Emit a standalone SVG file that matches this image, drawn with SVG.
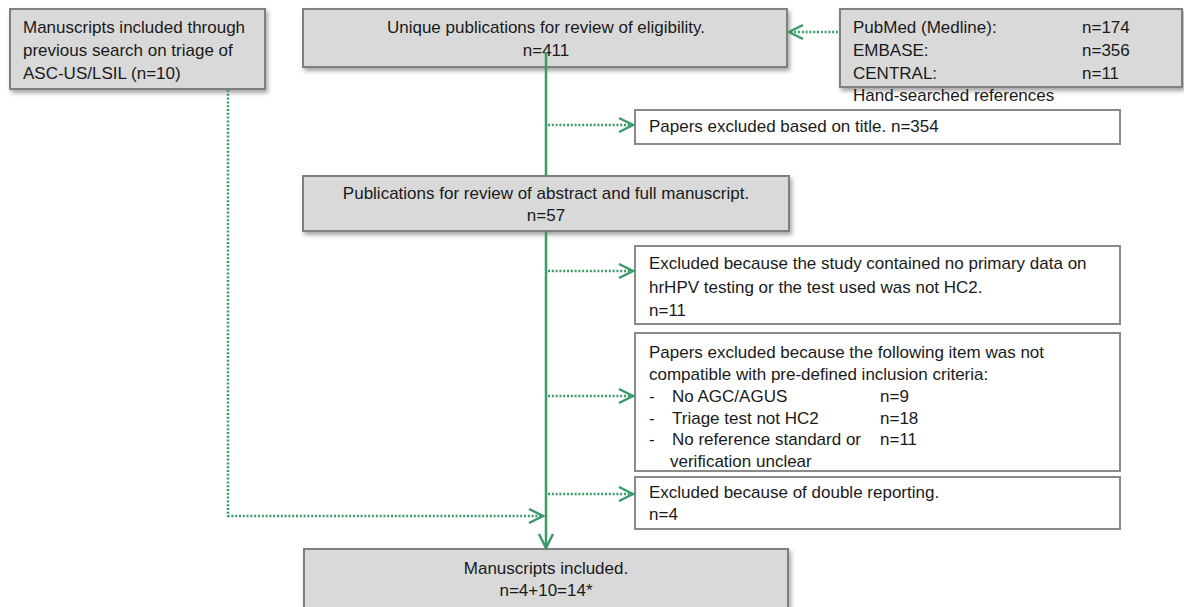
<svg xmlns="http://www.w3.org/2000/svg" width="1184" height="607" viewBox="0 0 1184 607">
  <style>
    .gbox { fill: #d9d9d9; stroke: #7f7f7f; stroke-width: 2; filter: url(#shadow); }
    .wbox { fill: #ffffff; stroke: #8a8a8a; stroke-width: 2; }
    text { font-family: "Liberation Sans", Arial, sans-serif; font-size: 17px; fill: #1a1a1a; }
    .mid { text-anchor: middle; }
    .solid { fill: none; stroke: #3a9a68; stroke-width: 2.5; }
    .dot { fill: none; stroke: #3a9a68; stroke-width: 2.5; stroke-dasharray: 2 1.8; }
  </style>
  <defs>
    <filter id="shadow" x="-5%" y="-10%" width="115%" height="140%">
      <feDropShadow dx="2" dy="3" stdDeviation="2" flood-color="#000" flood-opacity="0.35"/>
    </filter>
    <marker id="arr" markerUnits="userSpaceOnUse" markerWidth="20" markerHeight="20" viewBox="0 0 20 20" refX="17" refY="10" orient="auto">
      <path d="M3,3 L17,10 L3,17" fill="none" stroke="#3a9a68" stroke-width="2.5" stroke-dasharray="none"/>
    </marker>
  </defs>

  <g id="n-previous">
    <rect class="gbox" x="10" y="9" width="255" height="80"/>
    <text x="23" y="33">Manuscripts included through</text>
    <text x="23" y="56">previous search on triage of</text>
    <text x="23" y="79">ASC-US/LSIL (n=10)</text>
  </g>

  <g id="n-unique">
    <rect class="gbox" x="303" y="9" width="484" height="58"/>
    <text class="mid" x="546" y="33">Unique publications for review of eligibility.</text>
    <text class="mid" x="546" y="56">n=411</text>
  </g>

  <g id="n-sources">
    <rect class="gbox" x="840" y="9" width="342" height="78"/>
    <text x="853" y="33">PubMed (Medline):</text>
    <text x="1082" y="33">n=174</text>
    <text x="853" y="56">EMBASE:</text>
    <text x="1082" y="56">n=356</text>
    <text x="853" y="79">CENTRAL:</text>
    <text x="1082" y="79">n=11</text>
    <text x="853" y="101">Hand-searched references</text>
  </g>

  <g id="n-title">
    <rect class="wbox" x="635" y="110" width="485" height="34"/>
    <text x="649" y="132">Papers excluded based on title. n=354</text>
  </g>

  <g id="n-abstract">
    <rect class="gbox" x="303" y="176" width="486" height="55"/>
    <text class="mid" x="546" y="199">Publications for review of abstract and full manuscript.</text>
    <text class="mid" x="546" y="221">n=57</text>
  </g>

  <g id="n-noprimary">
    <rect class="wbox" x="635" y="246" width="485" height="78"/>
    <text x="649" y="269">Excluded because the study contained no primary data on</text>
    <text x="649" y="293">hrHPV testing or the test used was not HC2.</text>
    <text x="649" y="316">n=11</text>
  </g>

  <g id="n-criteria">
    <rect class="wbox" x="635" y="333" width="485" height="138"/>
    <text x="649" y="358">Papers excluded because the following item was not</text>
    <text x="649" y="380">compatible with pre-defined inclusion criteria:</text>
    <text x="649" y="402">-</text>
    <text x="672" y="402">No AGC/AGUS</text>
    <text x="880" y="402">n=9</text>
    <text x="649" y="424">-</text>
    <text x="672" y="424">Triage test not HC2</text>
    <text x="880" y="424">n=18</text>
    <text x="649" y="445">-</text>
    <text x="672" y="445">No reference standard  or</text>
    <text x="880" y="445">n=11</text>
    <text x="670" y="467">verification unclear</text>
  </g>

  <g id="n-double">
    <rect class="wbox" x="635" y="477" width="485" height="52"/>
    <text x="649" y="498">Excluded because of double reporting.</text>
    <text x="649" y="520">n=4</text>
  </g>

  <g id="n-included">
    <rect class="gbox" x="304" y="549" width="484" height="70"/>
    <text class="mid" x="546" y="574">Manuscripts included.</text>
    <text class="mid" x="546" y="596">n=4+10=14*</text>
  </g>

  <g id="connectors">
    <path class="dot" d="M838,32 L789,32" marker-end="url(#arr)"/>
    <path class="solid" d="M546,52 L546,176"/>
    <path class="dot" d="M548,125 L633,125" marker-end="url(#arr)"/>
    <path class="solid" d="M546,231 L546,548" marker-end="url(#arr)"/>
    <path class="dot" d="M548,271 L633,271" marker-end="url(#arr)"/>
    <path class="dot" d="M548,396 L633,396" marker-end="url(#arr)"/>
    <path class="dot" d="M548,494 L633,494" marker-end="url(#arr)"/>
    <path class="dot" d="M228,90 L228,516 L543,516" marker-end="url(#arr)"/>
  </g>
</svg>
